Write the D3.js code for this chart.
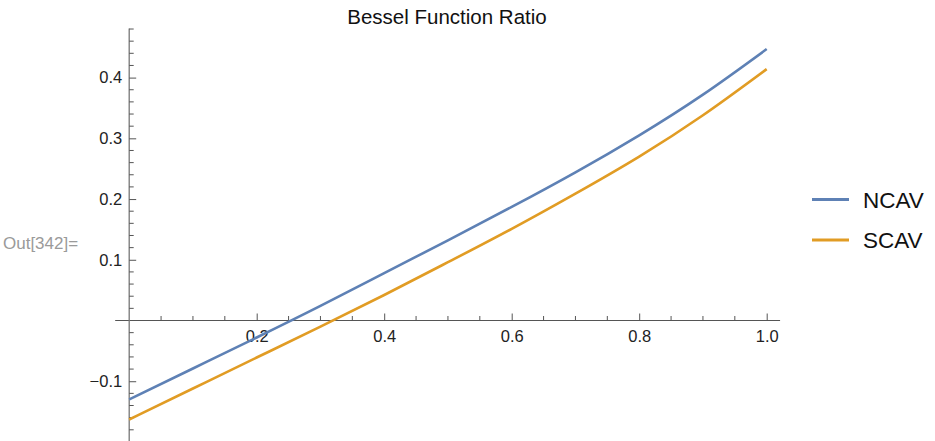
<!DOCTYPE html>
<html>
<head lang="en">
    <meta charset="UTF-8">
    <title>Bessel Function Ratio</title>
    <script src="https://cdnjs.cloudflare.com/ajax/libs/d3/7.8.5/d3.min.js"></script>
    <style>
        body { margin: 0; background: #fff; }
        text { font-family: "Liberation Sans", Arial, sans-serif; }
    </style>
</head>
<body>

<script>

    // values
    var xs   = [0, 0.1, 0.2, 0.3, 0.4, 0.5, 0.6, 0.7, 0.8, 0.9, 1.0];
    var ncav = [-0.130, -0.079, -0.028, 0.024, 0.078, 0.132, 0.187, 0.244, 0.305, 0.372, 0.447];
    var scav = [-0.163, -0.112, -0.061, -0.010, 0.042, 0.096, 0.151, 0.209, 0.270, 0.338, 0.414];
    var seriesNames = ["NCAV", "SCAV"];
    var xTicks = [0.2, 0.4, 0.6, 0.8, 1.0];
    var yTicks = [-0.1, 0.1, 0.2, 0.3, 0.4];

    var colors = ["#5e81b5", "#e19c24"];
    var width = 935, height = 441;

    var svg = d3.select("body").append("svg")
            .attr("width", width)
            .attr("height", height);

    var x = d3.scaleLinear().domain([0, 1]).range([129.2, 766.7]);
    var y = d3.scaleLinear().domain([0, 0.4]).range([320.5, 77.6]);

    // axis lines (mathematica style, crossing at origin)
    svg.append("line")
            .attr("x1", x(-0.022)).attr("x2", x(1.021))
            .attr("y1", y(0)).attr("y2", y(0))
            .attr("stroke", "#555").attr("stroke-width", 1);
    svg.append("line")
            .attr("x1", x(0)).attr("x2", x(0))
            .attr("y1", y(-0.2)).attr("y2", y(0.481))
            .attr("stroke", "#777").attr("stroke-width", 1.3);

    // minor ticks
    var xMinor = d3.range(1, 21).map(function(i){ return i * 0.05; })
            .filter(function(v){ return Math.round(v * 100) % 20 != 0; });
    svg.selectAll(".xminor").data(xMinor).enter().append("line")
            .attr("x1", function(d){ return x(d); }).attr("x2", function(d){ return x(d); })
            .attr("y1", y(0)).attr("y2", y(0) - 4.5)
            .attr("stroke", "#555");

    var yMinor = d3.range(-9, 25).map(function(i){ return i * 0.02; })
            .filter(function(v){ return Math.round(v * 100) % 10 != 0; });
    svg.selectAll(".yminor").data(yMinor).enter().append("line")
            .attr("x1", x(0)).attr("x2", x(0) + 4.5)
            .attr("y1", function(d){ return y(d); }).attr("y2", function(d){ return y(d); })
            .attr("stroke", "#555");

    // major ticks + labels
    var fmt = d3.format(".1f");
    var xAxis = svg.append("g")
            .attr("transform", "translate(0," + y(0) + ")")
            .call(d3.axisBottom(x).tickValues(xTicks).tickFormat(fmt).tickSizeInner(-7).tickSizeOuter(0).tickPadding(10));
    var yAxis = svg.append("g")
            .attr("transform", "translate(" + x(0) + ",0)")
            .call(d3.axisLeft(y).tickValues(yTicks).tickFormat(fmt).tickSizeInner(-7).tickSizeOuter(0).tickPadding(7));
    [xAxis, yAxis].forEach(function(g){
        g.select(".domain").remove();
        g.selectAll(".tick line").attr("stroke", "#555");
        g.selectAll(".tick text").attr("fill", "#222").style("font-size", "16.5px")
                .style("font-family", "'Liberation Sans', Arial, sans-serif");
    });

    // curves
    var data = [ncav, scav];
    var line = d3.line()
            .x(function(d, i){ return x(xs[i]); })
            .y(function(d){ return y(d); })
            .curve(d3.curveNatural);
    svg.selectAll(".curve").data(data).enter().append("path")
            .attr("d", line)
            .attr("fill", "none")
            .attr("stroke", function(d, i){ return colors[i]; })
            .attr("stroke-width", 2.6);

    // title
    svg.append("text")
            .attr("x", 447).attr("y", 24)
            .attr("text-anchor", "middle")
            .style("font-size", "20.5px")
            .attr("fill", "#111")
            .text("Bessel Function Ratio");

    // legend
    var legend = svg.selectAll(".legend").data(seriesNames).enter().append("g")
            .attr("transform", function(d, i){ return "translate(812," + (199.5 + i * 40.5) + ")"; });
    legend.append("line")
            .attr("x1", 0).attr("x2", 37)
            .attr("stroke", function(d, i){ return colors[i]; })
            .attr("stroke-width", 2.8);
    legend.append("text")
            .attr("x", 51).attr("y", 8)
            .style("font-size", "22.5px")
            .attr("fill", "#111")
            .text(function(d){ return d; });

    // notebook output label
    svg.append("text")
            .attr("x", 3).attr("y", 249)
            .style("font-size", "17px")
            .attr("fill", "#9a9a9a")
            .text("Out[342]=");

</script>

</body>
</html>
